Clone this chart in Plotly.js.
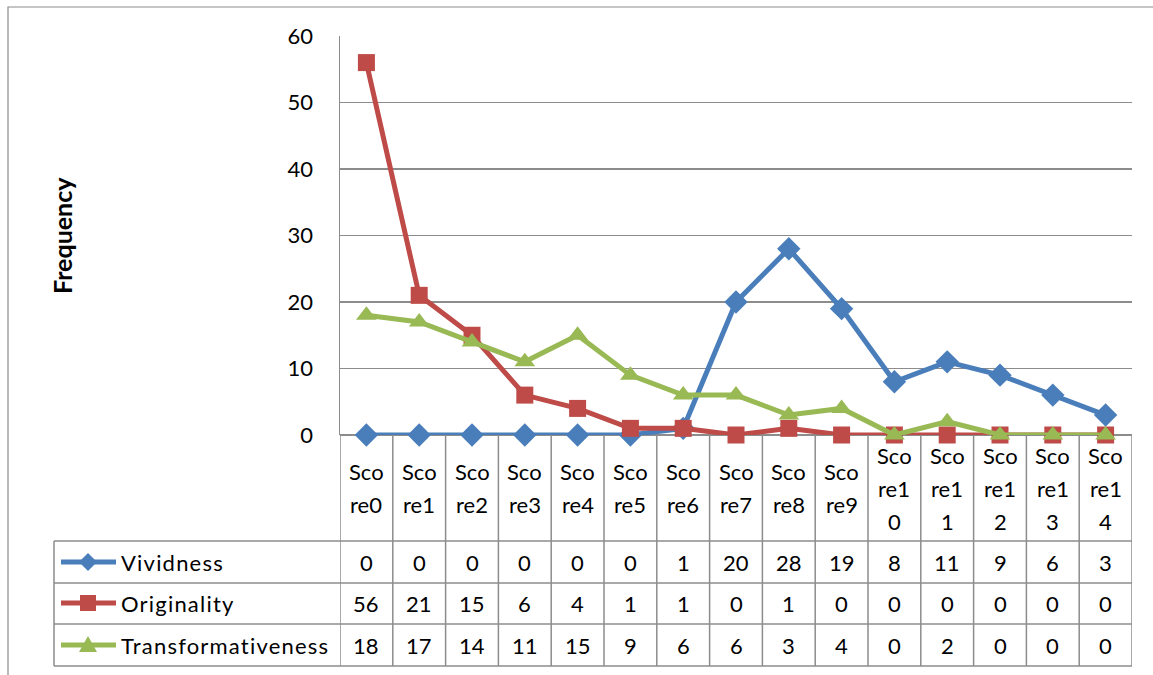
<!DOCTYPE html>
<html><head><meta charset="utf-8">
<script src="https://cdn.plot.ly/plotly-3.0.1.min.js"></script>
<style>html,body{margin:0;padding:0;background:#fff}#chart{width:1153px;height:675px}
text{font-variant-ligatures:none;font-feature-settings:"liga" 0,"clig" 0;}</style>
</head><body><div id="chart"></div>
<script>
const categories = ['Score0','Score1','Score2','Score3','Score4','Score5','Score6','Score7','Score8','Score9','Score10','Score11','Score12','Score13','Score14'];
const seriesNames = ['Vividness','Originality','Transformativeness'];
const vividness = [0,0,0,0,0,0,1,20,28,19,8,11,9,6,3];
const originality = [56,21,15,6,4,1,1,0,1,0,0,0,0,0,0];
const transformativeness = [18,17,14,11,15,9,6,6,3,4,0,2,0,0,0];
const yTickValues = [0,10,20,30,40,50,60];
const yTitle = 'Frequency';

const colors = ['#4A7EBB','#BE4B48','#98B954'];
const symbols = ['diamond','square','triangle-up'];
const markerSizes = [18,17,18];
const seriesData = [vividness, originality, transformativeness];

const W = 1153, H = 675, L = 340, R = 1132, T = 36, B = 435;
const FONT = 'Lato, "Open Sans", sans-serif';
const FS = 22;
const px = x => (x - L) / (R - L);
const py = y => (B - y) / (B - T);
const GRID = '#8C8C8C';

const traces = seriesData.map((d, i) => ({
  type: 'scatter', mode: 'lines+markers', name: seriesNames[i],
  x: categories, y: d, cliponaxis: false,
  line: {color: colors[i], width: 5},
  marker: {symbol: symbols[i], size: markerSizes[i], color: colors[i]}
}));

const shapes = [];
const annotations = [];
shapes.push({type:'rect', xref:'paper', yref:'paper', x0:px(8), x1:px(1170), y0:py(7), y1:py(690), line:{color:'#8C8C8C', width:1.2}, fillcolor:'rgba(0,0,0,0)', layer:'below'});

const headerTop = 435;
const rowLines = [541, 583, 624, 666];
const rowCenters = [562, 603, 645];
for (let k = 0; k <= categories.length; k++) {
  shapes.push({type:'line', xref:'x', yref:'paper', x0:k-0.5, x1:k-0.5, y0:py(headerTop), y1:py(666), line:{color:GRID, width:1.5}});
}
rowLines.forEach(y => shapes.push({type:'line', xref:'paper', yref:'paper', x0:px(54), x1:1, y0:py(y), y1:py(y), line:{color:GRID, width:1.5}}));
shapes.push({type:'line', xref:'paper', yref:'paper', x0:px(54), x1:px(54), y0:py(541), y1:py(666), line:{color:GRID, width:1.5}});

categories.forEach((c, i) => {
  const parts = c.match(/.{1,3}/g);
  const step = 33;
  const start = 488 - (parts.length - 1) * step / 2;
  parts.forEach((p, j) => annotations.push({xref:'x', yref:'paper', x:i, y:py(start + j*step), text:p, showarrow:false, font:{size:FS, color:'#000', family:FONT}, xanchor:'center', yanchor:'middle'}));
});
seriesData.forEach((d, r) => {
  d.forEach((v, i) => annotations.push({xref:'x', yref:'paper', x:i, y:py(rowCenters[r]), text:String(v), showarrow:false, font:{size:FS, color:'#000', family:FONT}, xanchor:'center', yanchor:'middle'}));
  const cy = rowCenters[r];
  shapes.push({type:'line', xref:'paper', yref:'paper', x0:px(61), x1:px(116), y0:py(cy), y1:py(cy), line:{color:colors[r], width:5}});
  let path;
  const cx = 88;
  if (r === 0) {
    const s = 9;
    path = `M ${px(cx)},${py(cy-s)} L ${px(cx+s)},${py(cy)} L ${px(cx)},${py(cy+s)} L ${px(cx-s)},${py(cy)} Z`;
  } else if (r === 1) {
    const s = 8;
    path = `M ${px(cx-s)},${py(cy-s)} L ${px(cx+s)},${py(cy-s)} L ${px(cx+s)},${py(cy+s)} L ${px(cx-s)},${py(cy+s)} Z`;
  } else {
    path = `M ${px(cx)},${py(cy-9)} L ${px(cx+9)},${py(cy+7)} L ${px(cx-9)},${py(cy+7)} Z`;
  }
  shapes.push({type:'path', xref:'paper', yref:'paper', path, fillcolor:colors[r], line:{color:colors[r], width:0}});
  annotations.push({xref:'paper', yref:'paper', x:px(119), y:py(cy), text:'<span style="letter-spacing:1.2px">'+seriesNames[r]+'</span>', showarrow:false, font:{size:FS, color:'#000', family:FONT}, xanchor:'left', yanchor:'middle'});
});
annotations.push({xref:'paper', yref:'paper', x:px(62), y:py(236), text:'<b>'+yTitle+'</b>', textangle:-90, showarrow:false, font:{size:25, color:'#000', family:FONT}, xanchor:'center', yanchor:'middle'});

const layout = {
  width: W, height: H,
  margin: {l: L, r: W - R, t: T, b: H - B, pad: 0},
  paper_bgcolor: '#fff', plot_bgcolor: '#fff',
  showlegend: false,
  font: {family: FONT, size: FS, color: '#000'},
  xaxis: {type:'category', range:[-0.5, categories.length - 0.5], showticklabels:false, showgrid:false, zeroline:false, showline:false, ticks:''},
  yaxis: {range:[0,60], tickvals:yTickValues, ticktext:yTickValues.map(String), showgrid:true, gridcolor:GRID, gridwidth:1.5, zeroline:true, zerolinecolor:GRID, zerolinewidth:1.5, showline:true, linecolor:GRID, linewidth:1.5, ticks:'', ticklabelstandoff:21, tickfont:{size:FS, color:'#000', family:FONT}},
  shapes, annotations
};
Plotly.newPlot('chart', traces, layout, {staticPlot:true, displayModeBar:false});
</script></body></html>
